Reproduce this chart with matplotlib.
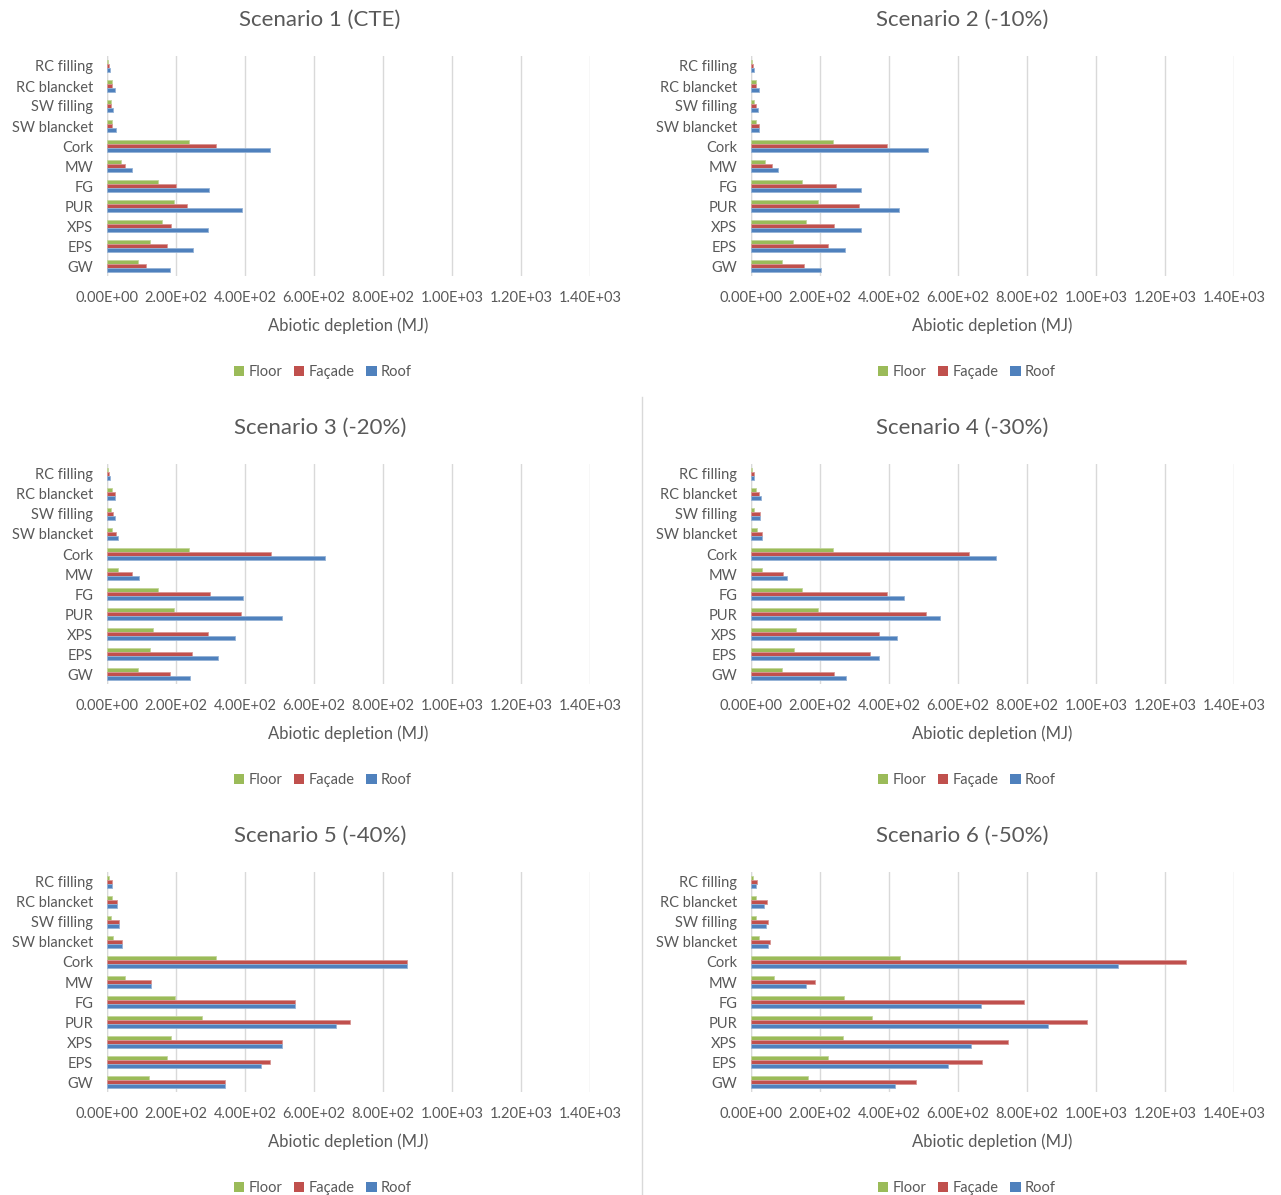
import matplotlib
matplotlib.use("Agg")
import matplotlib.pyplot as plt
import numpy as np
from matplotlib.ticker import FuncFormatter
from matplotlib.patches import Rectangle
from matplotlib.lines import Line2D

plt.rcParams['font.family'] = ['Lato', 'DejaVu Sans']

materials = ["GW", "EPS", "XPS", "PUR", "FG", "MW", "Cork",
             "SW blancket", "SW filling", "RC blancket", "RC filling"]

titles = ["Scenario 1 (CTE)", "Scenario 2 (-10%)", "Scenario 3 (-20%)",
          "Scenario 4 (-30%)", "Scenario 5 (-40%)", "Scenario 6 (-50%)"]

# Abiotic depletion (MJ), ordered as in `materials`
floor_s1 = [91, 124, 158, 195, 149, 41, 237, 15, 11, 15, 4]
facade_s1 = [113, 173, 186, 233, 199, 53, 317, 15, 11, 15, 6]
roof_s1 = [184, 248, 294, 391, 296, 73, 473, 25, 18, 23, 8]

floor_s2 = [90, 122, 159, 195, 148, 40, 238, 14, 10, 14, 2]
facade_s2 = [153, 222, 240, 312, 247, 60, 394, 24, 14, 14, 5]
roof_s2 = [204, 272, 320, 430, 320, 79, 512, 24, 19, 22, 8]

floor_s3 = [91, 126, 132, 195, 148, 33, 239, 15, 11, 15, 3]
facade_s3 = [183, 247, 293, 389, 298, 72, 474, 25, 17, 22, 6]
roof_s3 = [242, 322, 372, 508, 395, 93, 632, 33, 24, 22, 10]

floor_s4 = [90, 125, 131, 194, 147, 32, 237, 17, 10, 14, 4]
facade_s4 = [242, 346, 371, 506, 393, 92, 631, 32, 26, 22, 9]
roof_s4 = [274, 371, 423, 547, 443, 104, 710, 32, 26, 29, 9]

floor_s5 = [123, 175, 186, 274, 197, 52, 317, 17, 13, 15, 5]
facade_s5 = [342, 472, 507, 704, 544, 128, 869, 43, 35, 30, 15]
roof_s5 = [342, 447, 507, 665, 544, 128, 869, 43, 35, 30, 15]

floor_s6 = [165, 222, 266, 350, 271, 66, 433, 22, 15, 14, 5]
facade_s6 = [477, 670, 745, 975, 790, 185, 1261, 56, 48, 45, 18]
roof_s6 = [417, 570, 638, 860, 668, 158, 1065, 48, 43, 38, 15]

floor_all = [floor_s1, floor_s2, floor_s3, floor_s4, floor_s5, floor_s6]
facade_all = [facade_s1, facade_s2, facade_s3, facade_s4, facade_s5, facade_s6]
roof_all = [roof_s1, roof_s2, roof_s3, roof_s4, roof_s5, roof_s6]

series_names = ["Floor", "Façade", "Roof"]
series_colors = ["#9BBB59", "#C0504D", "#4F81BD"]
edge_colors = ["#C3D69B", "#D99694", "#95B3D7"]

W, H = 1281, 1195
fig = plt.figure(figsize=(W / 100, H / 100), dpi=100)
TXT = "#595959"
GRID = "#D9D9D9"


def fx(px):
    return px / W


def fy(py):
    return 1 - py / H


def sci(v, _pos):
    if v == 0:
        return "0.00E+00"
    e = int(np.floor(np.log10(abs(v))))
    m = v / 10 ** e
    return f"{m:.2f}E+{e:02d}"


ypos = np.arange(len(materials))
bh = 0.2

for i in range(6):
    row, col = divmod(i, 2)
    oy = row * 408
    ox = col * 644
    ax_left = 107 + ox
    ax_right = 590 + ox
    ax_top = 56 + oy
    ax_bot = 276 + oy
    ax = fig.add_axes([fx(ax_left), fy(ax_bot), fx(ax_right - ax_left),
                       (ax_bot - ax_top) / H])
    vals = [floor_all[i], facade_all[i], roof_all[i]]
    offs = [bh, 0, -bh]
    for v, o, c, ec in zip(vals, offs, series_colors, edge_colors):
        ax.barh(ypos + o, v, height=bh, color=c, edgecolor=ec,
                linewidth=0.6, zorder=3)
    ax.set_xlim(0, 1400)
    ax.set_ylim(-0.5, len(materials) - 0.5)
    ax.set_xticks(np.arange(0, 1401, 200))
    ax.xaxis.set_major_formatter(FuncFormatter(sci))
    ax.set_yticks(ypos)
    ax.set_yticklabels(materials)
    ax.tick_params(axis='both', length=0, colors=TXT, labelsize=10.5)
    ax.tick_params(axis='y', pad=10)
    ax.tick_params(axis='x', pad=11)
    ax.grid(axis='x', color=GRID, linewidth=1, zorder=0)
    for s in ax.spines.values():
        s.set_visible(False)
    ax.axvline(0, color=GRID, linewidth=1, zorder=1)
    ax.set_xlabel("Abiotic depletion (MJ)", color=TXT, fontsize=12, labelpad=8.5)

    cx = (320 + ox) if col == 0 else 962
    fig.text(fx(cx), fy(20 + oy), titles[i], ha='center', va='center',
             fontsize=16, color=TXT)

    handles = [Rectangle((0, 0), 1, 1, facecolor=c, edgecolor='none')
               for c in series_colors]
    fig.legend(handles, series_names, loc='center',
               bbox_to_anchor=(fx(323 + ox), fy(372 + oy)), ncol=3,
               frameon=False, fontsize=10.5, labelcolor=TXT,
               handlelength=0.7, handleheight=0.7, handletextpad=0.3,
               columnspacing=0.8)

# light separators between the chart blocks
fig.add_artist(Line2D([fx(641.5), fx(641.5)], [fy(397), fy(1195)],
                      color="#D9D9D9", linewidth=1))

fig.savefig("out.png", dpi=100, facecolor="white")
